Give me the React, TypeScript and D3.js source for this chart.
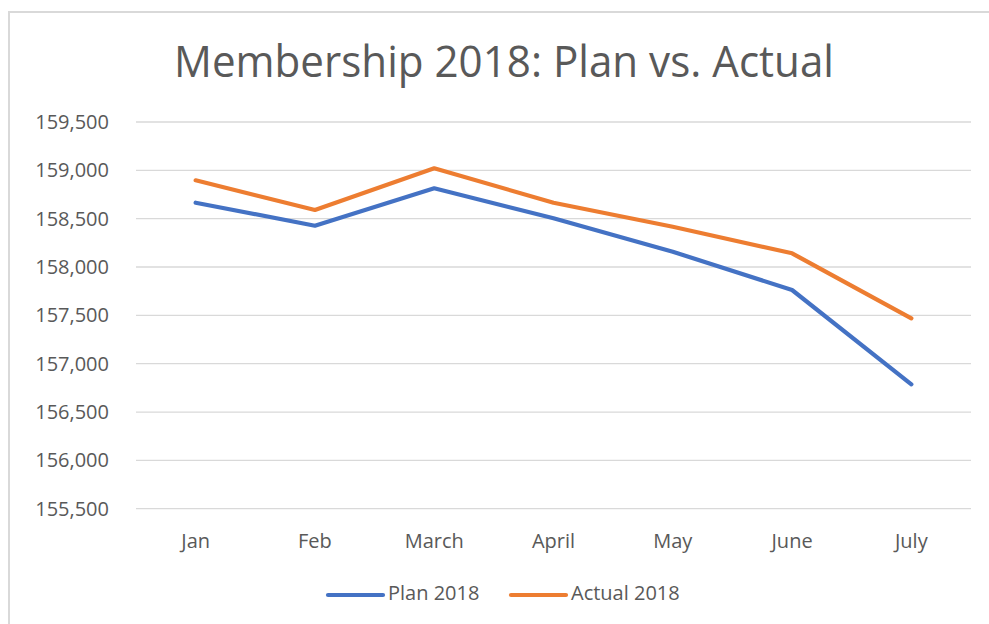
import React, { useEffect, useRef } from "react";
import * as d3 from "d3";

const months = ["Jan", "Feb", "March", "April", "May", "June", "July"];
const plan2018 = [158665, 158427, 158814, 158504, 158158, 157762, 156787];
const actual2018 = [158897, 158590, 159021, 158665, 158417, 158142, 157469];
const yTicks = [155500, 156000, 156500, 157000, 157500, 158000, 158500, 159000, 159500];
const seriesNames = ["Plan 2018", "Actual 2018"];
const seriesColors = ["#4472C4", "#ED7D31"];

const W = 989;
const H = 624;

export default function App() {
  const ref = useRef<SVGSVGElement | null>(null);

  useEffect(() => {
    const svg = d3.select(ref.current);
    svg.selectAll("*").remove();

    const font = "'Open Sans', sans-serif";
    const textColor = "#595959";

    // chart border
    svg.append("rect")
      .attr("x", 9).attr("y", 12).attr("width", 1000).attr("height", 700)
      .attr("fill", "#fff").attr("stroke", "#D9D9D9").attr("stroke-width", 2);

    const left = 136, right = 971, top = 122, bottom = 508.7;

    const x = d3.scaleBand<string>().domain(months).range([left, right]);
    const y = d3.scaleLinear().domain([155500, 159500]).range([bottom, top]);

    // gridlines
    svg.append("g").selectAll("line").data(yTicks).join("line")
      .attr("x1", left).attr("x2", right)
      .attr("y1", d => y(d)).attr("y2", d => y(d))
      .attr("stroke", "#D9D9D9").attr("stroke-width", 1.3);

    // y labels
    svg.append("g").selectAll("text").data(yTicks).join("text")
      .attr("x", 109).attr("y", d => y(d) + 7)
      .attr("text-anchor", "end")
      .attr("font-family", font).attr("font-size", 20).attr("fill", textColor)
      .text(d => d3.format(",")(d));

    // x labels
    svg.append("g").selectAll("text").data(months).join("text")
      .attr("x", d => (x(d) as number) + x.bandwidth() / 2).attr("y", 548)
      .attr("text-anchor", "middle")
      .attr("font-family", font).attr("font-size", 20).attr("fill", textColor)
      .text(d => d);

    const line = d3.line<number>()
      .x((_, i) => (x(months[i]) as number) + x.bandwidth() / 2)
      .y(d => y(d));

    [plan2018, actual2018].forEach((s, i) => {
      svg.append("path").datum(s)
        .attr("d", line)
        .attr("fill", "none")
        .attr("stroke", seriesColors[i])
        .attr("stroke-width", 4.2)
        .attr("stroke-linejoin", "round")
        .attr("stroke-linecap", "round");
    });

    // title
    svg.append("text")
      .attr("x", 504).attr("y", 77)
      .attr("text-anchor", "middle")
      .attr("font-family", font).attr("font-size", 43).attr("fill", textColor)
      .attr("textLength", 660).attr("lengthAdjust", "spacingAndGlyphs")
      .text("Membership 2018: Plan vs. Actual");

    // legend
    const legendX = [328, 511];
    seriesNames.forEach((n, i) => {
      const g = svg.append("g");
      g.append("line")
        .attr("x1", legendX[i]).attr("x2", legendX[i] + 55)
        .attr("y1", 595).attr("y2", 595)
        .attr("stroke", seriesColors[i]).attr("stroke-width", 4.2)
        .attr("stroke-linecap", "round");
      g.append("text")
        .attr("x", legendX[i] + 60).attr("y", 600)
        .attr("font-family", font).attr("font-size", 20).attr("fill", textColor)
        .text(n);
    });
  }, []);

  return (
    <svg ref={ref} width={W} height={H}
      style={{ position: "absolute", left: 0, top: 0, display: "block" }} />
  );
}
